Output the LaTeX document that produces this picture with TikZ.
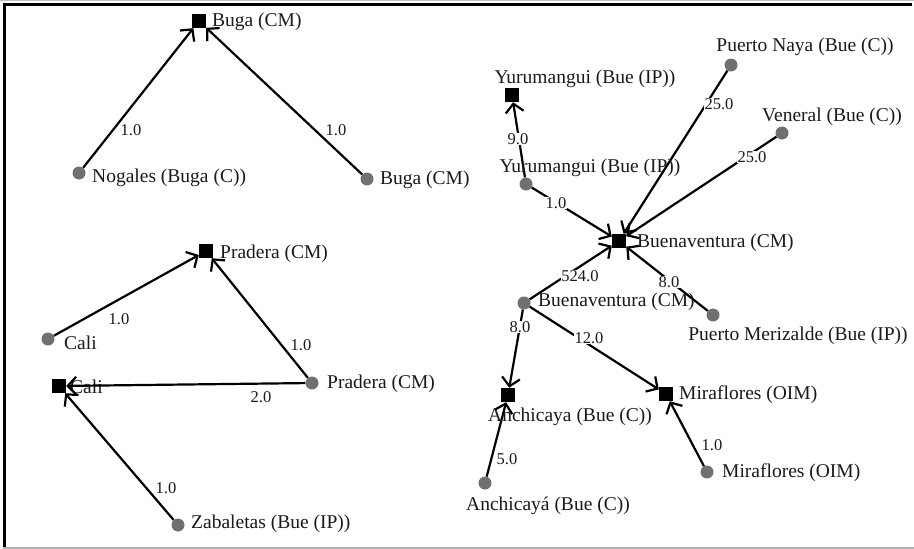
\documentclass[tikz,border=0pt]{standalone}
\usepackage{fontspec}
\setmainfont{Liberation Serif}
\usetikzlibrary{arrows.meta}
\definecolor{dotgray}{HTML}{707070}
\definecolor{txt}{HTML}{1A1A1A}
\begin{document}
\begin{tikzpicture}[x=1pt,y=-1pt,
  sq/.style={fill=black,draw=none,minimum size=14pt,inner sep=0pt},
  dot/.style={circle,fill=dotgray,draw=none,minimum size=13pt,inner sep=0pt},
  lab/.style={font=\fontsize{19.5}{21}\selectfont,text=txt,inner sep=0pt},
  wlab/.style={lab,anchor=west},
  elab/.style={font=\fontsize{16.5}{18}\selectfont,text=txt,inner sep=0.5pt,fill=white},
  conn/.style={line width=2.2pt,-{Straight Barb[length=8.5pt,width=18pt,line width=2.2pt]}}
]
\useasboundingbox (0,0) rectangle (914,549);
% frame
\draw[gray!50,line width=1pt] (0,0.5) -- (914,0.5);
\draw[black,line width=3pt] (3,4) -- (912,4);
\draw[black,line width=3pt] (4,4) -- (4,548);
\draw[gray!60,line width=1.5pt] (3,548) -- (914,548);

% ---- Buga group
\node[sq] (bugaS) at (199,21) {};
\node[dot] (nog) at (79,173) {};
\node[dot] (bugaC) at (367,179) {};
\draw[conn] (nog) -- (bugaS);
\draw[conn] (bugaC) -- (bugaS);
\node[wlab] (bugaSl) at (212,22) {Buga (CM)};
\node[wlab] (nogl) at (92,178) {Nogales (Buga (C))};
\node[wlab] (bugaCl) at (380,180) {Buga (CM)};
\node[elab] (e1) at (131,130) {1.0};
\node[elab] (e2) at (336,130) {1.0};

% ---- Pradera / Cali group
\node[sq] (praS) at (206,251) {};
\node[dot] (caliC) at (48,339) {};
\node[sq] (caliS) at (59,386) {};
\node[dot] (praC) at (312,383) {};
\node[dot] (zab) at (178,525) {};
\node[wlab] (praSl) at (220,254) {Pradera (CM)};
\node[wlab] (caliCl) at (64,343) {Cali};
\node[wlab] (caliSl) at (70,387) {Cali};
\node[wlab] (praCl) at (327,384) {Pradera (CM)};
\node[wlab] (zabl) at (191,524) {Zabaletas (Bue (IP))};
\draw[conn] (caliC) -- (praS);
\draw[conn] (praC) -- (praS);
\draw[conn] (praC) -- (caliS);
\draw[conn] (zab) -- (caliS);
\node[elab] (e3) at (119,319) {1.0};
\node[elab] (e4) at (301,345) {1.0};
\node[elab] (e5) at (261,397) {2.0};
\node[elab] (e6) at (166,488) {1.0};

% ---- Buenaventura group
\node[sq] (yurS) at (512,95) {};
\node[dot] (yurC) at (526,184) {};
\node[dot] (naya) at (731,65) {};
\node[dot] (ven) at (782,133) {};
\node[sq] (bueS) at (619,241) {};
\node[dot] (bueC) at (524,303) {};
\node[dot] (mer) at (713,315) {};
\node[sq] (anchS) at (508,395) {};
\node[sq] (mirS) at (666,394) {};
\node[dot] (anchC) at (485,483) {};
\node[dot] (mirC) at (707,472) {};

\draw[conn] (yurC) -- (yurS);
\draw[conn] (yurC) -- (bueS);
\draw[conn] (naya) -- (bueS);
\draw[conn] (ven) -- (bueS);
\draw[conn] (bueC) -- (bueS);
\draw[conn] (mer) -- (bueS);
\draw[conn] (bueC) -- (anchS);
\draw[conn] (bueC) -- (mirS);
\draw[conn] (anchC) -- (anchS);
\draw[conn] (mirC) -- (mirS);

\node[elab] (e7) at (518,139) {9.0};
\node[elab] (e8) at (556,203) {1.0};
\node[elab] (e9) at (719,104) {25.0};
\node[elab] (e10) at (752,157) {25.0};
\node[elab] (e11) at (580,276) {524.0};
\node[elab] (e12) at (669,282) {8.0};
\node[elab] (e13) at (520,327) {8.0};
\node[elab] (e14) at (589,338) {12.0};
\node[elab] (e15) at (507,459) {5.0};
\node[elab] (e16) at (712,445) {1.0};

\node[lab] (yurSl) at (585,79) {Yurumangui (Bue (IP))};
\node[lab] (yurCl) at (590,168) {Yurumangui (Bue (IP))};
\node[lab] (nayal) at (805,47) {Puerto Naya (Bue (C))};
\node[lab] (venl) at (832,117) {Veneral (Bue (C))};
\node[wlab] (bueSl) at (637,243) {Buenaventura (CM)};
\node[wlab] (bueCl) at (538,302) {Buenaventura (CM)};
\node[lab] (merl) at (798,336) {Puerto Merizalde (Bue (IP))};
\node[lab] (anchSl) at (570,417) {Anchicaya (Bue (C))};
\node[wlab] (mirSl) at (679,395) {Miraflores (OIM)};
\node[lab] (anchCl) at (548,506) {Anchicayá (Bue (C))};
\node[wlab] (mirCl) at (722,473) {Miraflores (OIM)};
\end{tikzpicture}
\end{document}
